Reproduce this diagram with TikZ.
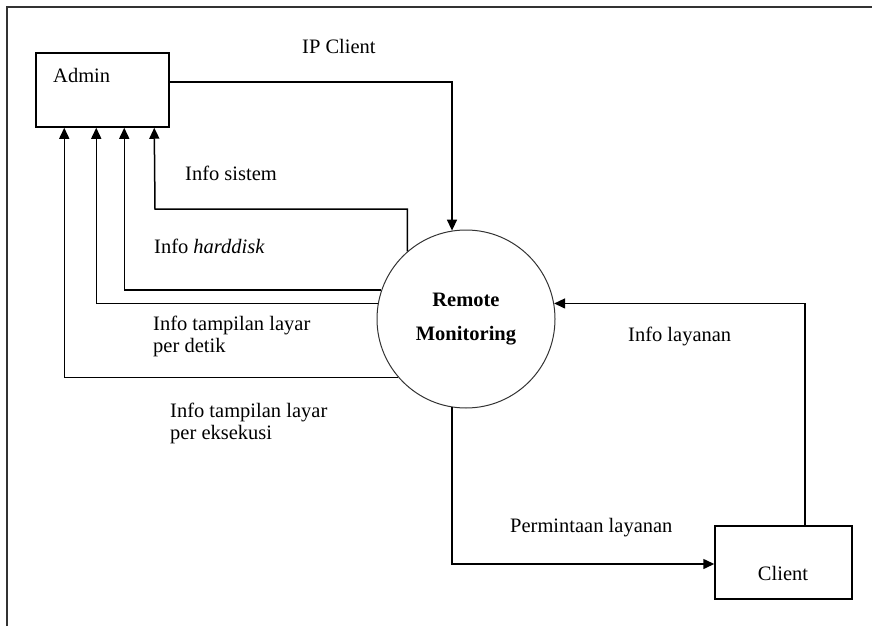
\documentclass[tikz,border=0pt]{standalone}
\usepackage{fontspec}
\setmainfont{Liberation Serif}
\usetikzlibrary{arrows.meta,calc}
\begin{document}
\begin{tikzpicture}[x=1pt,y=-1pt,
  every node/.style={font=\fontsize{20.5}{22}\selectfont},
  lbl/.style={anchor=west,inner sep=0pt,align=left},
  entity/.style={draw,line width=1.5pt,inner sep=0pt},
  proc/.style={draw,circle,line width=1pt,draw=black!80,inner sep=0pt,minimum size=178pt,align=center},
  flow/.style={line width=1.5pt,-{Triangle[length=11pt,width=10pt]}}]
\useasboundingbox (0,0) rectangle (872,626);
% frame
\draw[line width=2pt,black!80] (7,626) -- (7,7) -- (872,7);
% nodes
\node[entity,minimum width=133pt,minimum height=74pt] (admin) at (102.5,90) {};
\node[lbl] (admint) at (53,75) {Admin};
\node[entity,minimum width=137pt,minimum height=73pt] (client) at (783.5,562.5) {};
\node[inner sep=0pt] (clientt) at (783,573) {Client};
\node[proc] (rm) at (466,319) {\textbf{Remote}\\[12pt]\textbf{Monitoring}};
% connectors
\draw[flow] ([yshift=8pt]admin.east) -| (rm.99);
\draw[flow] (rm.131) |- (155,209) -- ($(admin.south west)+(119,0)$);
\draw[flow] (rm.161) -| ($(admin.south west)+(89,0)$);
\draw[flow] (rm.170) -| ($(admin.south west)+(61,0)$);
\draw[flow] (rm.221) -| ($(admin.south west)+(29,0)$);
\draw[flow] ([xshift=21.5pt]client.north) |- (rm.10);
\draw[flow] (rm.261) |- ([yshift=-1.5pt]client.west);
% labels
\node[lbl] (l1) at (302,46) {IP Client};
\node[lbl] (l2) at (185,173) {Info sistem};
\node[lbl] (l3) at (154,246) {Info \textit{harddisk}};
\node[lbl] (l4) at (153,336) {Info tampilan layar\\per detik};
\node[lbl] (l5) at (170,423) {Info tampilan layar\\per eksekusi};
\node[lbl] (l6) at (628,336) {Info layanan};
\node[lbl] (l7) at (510,528) {Permintaan layanan};
\end{tikzpicture}
\end{document}
